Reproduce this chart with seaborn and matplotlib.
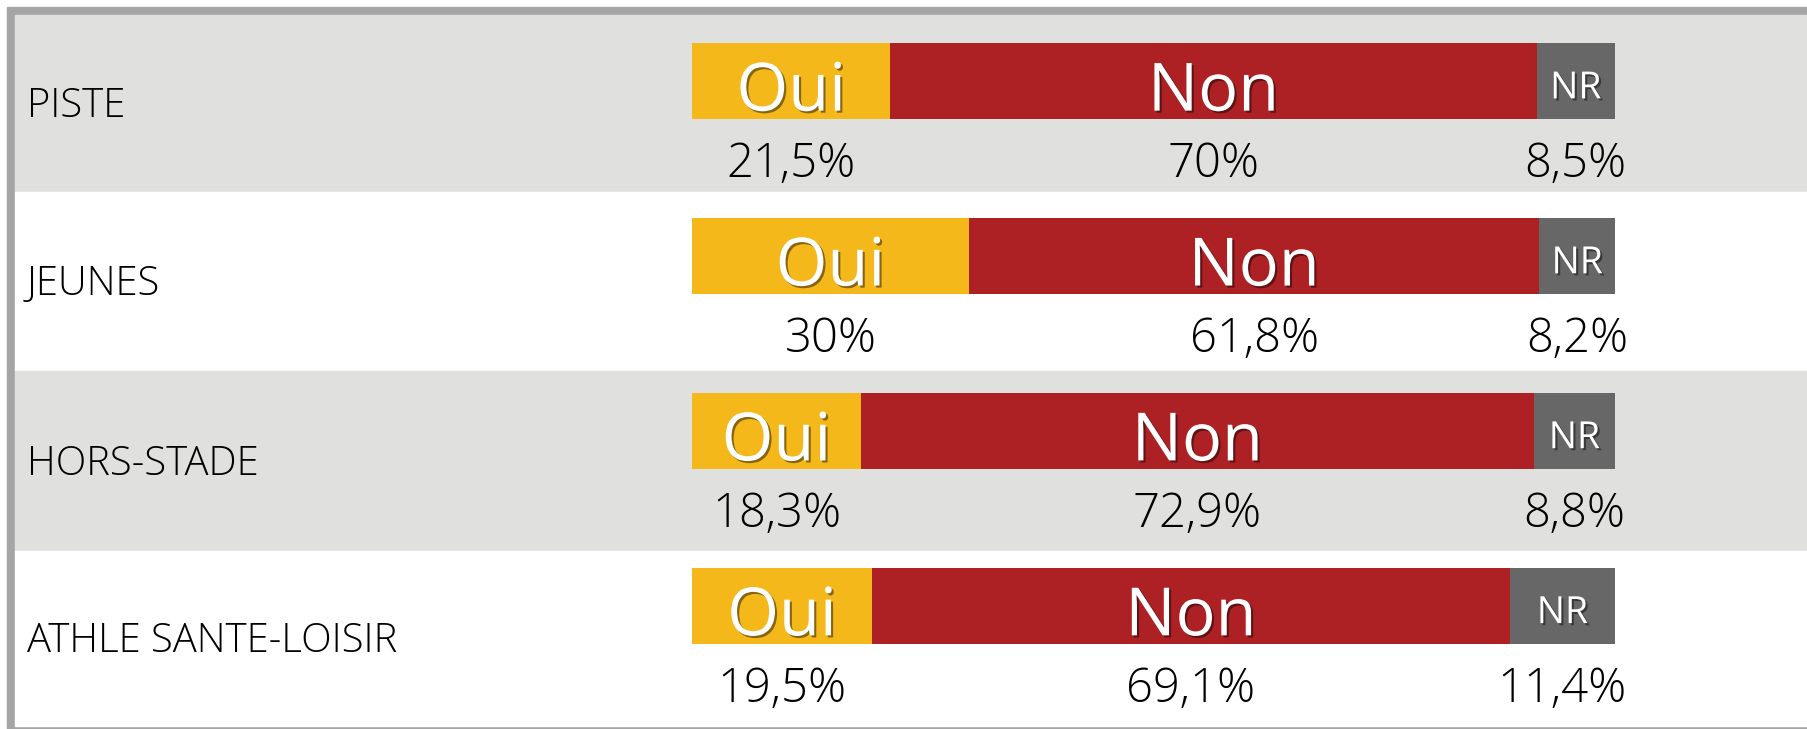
import matplotlib
matplotlib.use("Agg")
import matplotlib.pyplot as plt
import matplotlib.patheffects as pe
from matplotlib.patches import Rectangle
import seaborn as sns
import pandas as pd

# données
categories = ["PISTE", "JEUNES", "HORS-STADE", "ATHLE SANTE-LOISIR"]
oui = [21.5, 30, 18.3, 19.5]
non = [70, 61.8, 72.9, 69.1]
nr = [8.5, 8.2, 8.8, 11.4]
answers = ["Oui", "Non", "NR"]

c_oui = "#F5B81A"
c_non = "#AD2124"
c_nr = "#666766"
c_band = "#E0E0DF"
c_border = "#A5A5A5"

df = pd.DataFrame({"cat": categories, "oui": oui, "non": non, "nr": nr})
df["cum_non"] = df["oui"] + df["non"]
df["cum_nr"] = df["cum_non"] + df["nr"]

sns.set_theme(style="white")
plt.rcParams["font.family"] = ["Open Sans", "DejaVu Sans"]

W, H = 1808, 729
fig = plt.figure(figsize=(W / 100, H / 100), dpi=100)

# cadre gris + bandes alternées (en pixels)
fig.patches.append(Rectangle((7 / W, 0), 1, 1 - 7 / H, transform=fig.transFigure,
                             color=c_border, zorder=-10))
bands = [15, 192, 371, 551, 726]
for i in range(4):
    col = c_band if i % 2 == 0 else "white"
    fig.patches.append(Rectangle((15 / W, 1 - bands[i + 1] / H), 1, (bands[i + 1] - bands[i]) / H,
                                 transform=fig.transFigure, color=col, zorder=-9))

ax = fig.add_axes([0, 0, 1, 1])
ax.patch.set_alpha(0)

# barres empilées : on dessine les cumuls du plus long au plus court
bw = 76 / 174.9
for col, c in [("cum_nr", c_nr), ("cum_non", c_non), ("oui", c_oui)]:
    sns.barplot(data=df, x=col, y="cat", order=categories, color=c, orient="h",
                width=bw, saturation=1, linewidth=0, edgecolor=c, ax=ax)

px = 923 / 100
ax.set_xlim(-692 / px, (W - 692) / px)
ax.set_ylim((H - 80.9) / 174.9, -80.9 / 174.9)
ax.axis("off")

shadow = [pe.withSimplePatchShadow(offset=(1.5, -1.5), shadow_rgbFace="black", alpha=0.45)]

def fmt(v):
    return f"{v:g}".replace(".", ",") + "%"

for i, cat in enumerate(categories):
    band_mid = ((bands[i] + bands[i + 1]) / 2 - 80.9) / 174.9
    ax.text(-72.1, band_mid + 0.02, cat, fontsize=28.8, color="black", va="center", ha="left",
            fontweight="light")
    starts = [0, oui[i], oui[i] + non[i]]
    vals = [oui[i], non[i], nr[i]]
    for j, (s, v) in enumerate(zip(starts, vals)):
        xc = s + v / 2
        if answers[j] == "NR":
            ax.text(xc, i + 0.1, "NR", fontsize=27, color="white", ha="center",
                    va="baseline", path_effects=shadow)
        else:
            ax.text(xc, i + 0.17, answers[j], fontsize=48, color="white", ha="center",
                    va="baseline", path_effects=shadow)
        ax.text(xc, i + 0.55, fmt(v), fontsize=34, color="black", ha="center",
                va="baseline", fontweight="light")

fig.savefig("out.png", dpi=100)
